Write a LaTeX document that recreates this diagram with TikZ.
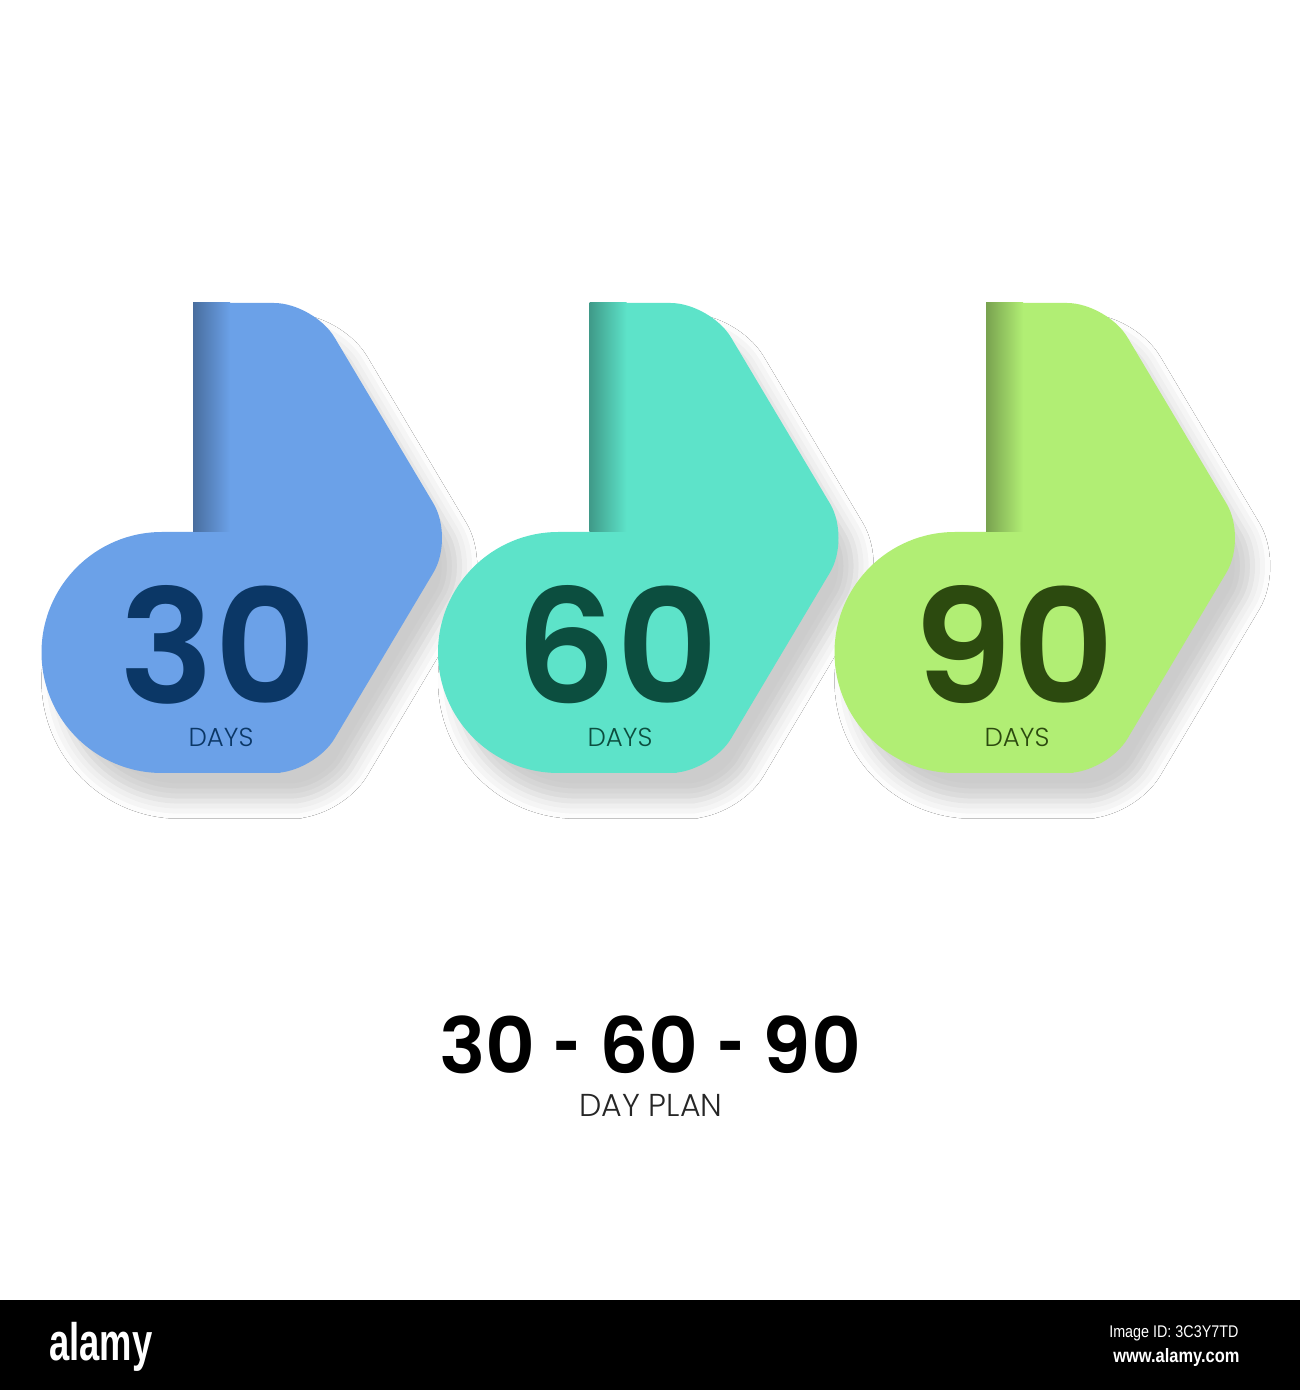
\documentclass[tikz,border=0pt]{standalone}
\usepackage{fontspec}
\setmainfont{Poppins}
\newfontfamily\lightfont{Poppins Light}
\newfontfamily\numfont{Poppins SemiBold}
\setsansfont{Liberation Sans}
\usetikzlibrary{shadows.blur}

\definecolor{tabblue}{HTML}{6BA1E8}
\definecolor{inkblue}{HTML}{0B3766}
\definecolor{tabteal}{HTML}{5DE3C9}
\definecolor{inkteal}{HTML}{0C4E3F}
\definecolor{tabgreen}{HTML}{B1EE74}
\definecolor{inkgreen}{HTML}{2C4A0F}

\begin{document}
\begin{tikzpicture}[x=0.01cm, y=0.01cm,
    tabshadow/.style={blur shadow={shadow xshift=5pt, shadow yshift=-8pt,
        shadow blur radius=5pt, shadow opacity=20}},
    bignum/.style={inner sep=0pt, font=\numfont\fontsize{45}{45}\selectfont},
    dayslabel/.style={inner sep=0pt, font=\lightfont\fontsize{7.4}{8}\selectfont}]
    \useasboundingbox (0,0) rectangle (1300,1390);
    \path[fill=white] (0,0) rectangle (1300,1390);

    % first tab
    \begin{scope}
        \path[fill=tabblue, tabshadow] (250,1087) [rounded corners=4mm] -- (314,1087) -- (454,852)
            -- (314,617) -- (240,617) [sharp corners] -- (162,617) arc (270:90:120.5)
            -- (193,858) -- (193,1087) -- cycle;
        \shade[left color=tabblue!68!black, right color=tabblue] (193,858) rectangle (230,1087);
    \end{scope}
    \node[bignum, text=inkblue] (num30) at (218,745) {30};
    \node[dayslabel, text=inkblue] (days30) at (221,653) {DAYS};

    % second tab
    \begin{scope}[shift={(396.5,0)}]
        \path[fill=tabteal, tabshadow] (250,1087) [rounded corners=4mm] -- (314,1087) -- (454,852)
            -- (314,617) -- (240,617) [sharp corners] -- (162,617) arc (270:90:120.5)
            -- (193,858) -- (193,1087) -- cycle;
        \shade[left color=tabteal!68!black, right color=tabteal] (193,858) rectangle (230,1087);
    \end{scope}
    \node[bignum, text=inkteal] (num60) at (617,745) {60};
    \node[dayslabel, text=inkteal] (days60) at (620,653) {DAYS};

    % third tab
    \begin{scope}[shift={(793,0)}]
        \path[fill=tabgreen, tabshadow] (250,1087) [rounded corners=4mm] -- (314,1087) -- (454,852)
            -- (314,617) -- (240,617) [sharp corners] -- (162,617) arc (270:90:120.5)
            -- (193,858) -- (193,1087) -- cycle;
        \shade[left color=tabgreen!68!black, right color=tabgreen] (193,858) rectangle (230,1087);
    \end{scope}
    \node[bignum, text=inkgreen] (num90) at (1014,745) {90};
    \node[dayslabel, text=inkgreen] (days90) at (1017,653) {DAYS};

    % plan title
    \node[font=\numfont\fontsize{22}{22}\selectfont] (plan) at (650,345)
        {30 \scalebox{0.6}[1]{-} 60 \scalebox{0.6}[1]{-} 90};
    \node[font=\lightfont\fontsize{9}{10}\selectfont, text=black!85] (plansub) at (651,285) {DAY PLAN};

    % footer bar
    \fill[black] (0,0) rectangle (1300,90);
    \node[font=\sffamily\bfseries\fontsize{15}{15}\selectfont, text=white, xscale=0.69] (logo) at (101,43) {alamy};
    \node[font=\sffamily\fontsize{4.8}{5}\selectfont, text=white, xscale=0.85, anchor=east] (imgid) at (1249,57) {Image ID: 3C3Y7TD};
    \node[font=\sffamily\bfseries\fontsize{5.5}{6}\selectfont, text=white, xscale=0.85, anchor=east] (site) at (1250,33) {www.alamy.com};
\end{tikzpicture}
\end{document}
